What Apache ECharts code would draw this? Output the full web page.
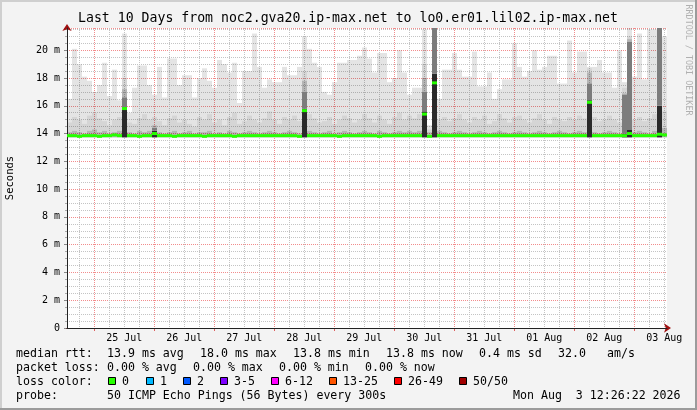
<!DOCTYPE html>
<html>
<head>
<meta charset="utf-8">
<script src="https://cdn.jsdelivr.net/npm/echarts@6/dist/echarts.min.js"></script>
<style>
html,body{margin:0;padding:0;background:#f3f3f3;}
#chart{width:697px;height:410px;}
</style>
</head>
<body>
<div id="chart"></div>
<script>
// ---------------- texts ----------------
const chartTitle = 'Last 10 Days from noc2.gva20.ip-max.net to lo0.er01.lil02.ip-max.net';
const yAxisTitle = 'Seconds';
const sideNote = 'RRDTOOL / TOBI OETIKER';

// ---------------- time axis (hours since 24 Jul 00:00) ----------------
const timeStartHour = 13.1;
const timeEndHour = 253.1;
const dayLabels = ['25 Jul','26 Jul','27 Jul','28 Jul','29 Jul','30 Jul','31 Jul','01 Aug','02 Aug','03 Aug'];
const dayLabelHours = [36,60,84,108,132,156,180,204,228,252];
const midnightHours = [24,48,72,96,120,144,168,192,216,240];
const sixHourHours = [18,30,36,42,54,60,66,78,84,90,102,108,114,126,132,138,150,156,162,174,180,186,198,204,210,222,228,234,246,252];

// ---------------- y axis ticks (ms) ----------------
const yMin = 0, yMax = 21.6, yStep = 2;

// ---------------- smoke data: one column per 2 hours (ms) ----------------
const smokeMin = [
13.72,13.72,13.72,13.72,13.72,13.72,13.72,13.72,13.72,13.72,
13.72,13.72,13.72,13.72,13.72,13.72,13.72,13.72,13.72,13.72,
13.72,13.72,13.72,13.72,13.72,13.72,13.72,13.72,13.72,13.72,
13.72,13.72,13.72,13.72,13.72,13.72,13.72,13.72,13.72,13.72,
13.72,13.72,13.72,13.72,13.72,13.72,13.72,13.72,13.72,13.72,
13.72,13.72,13.72,13.72,13.72,13.72,13.72,13.72,13.72,13.72,
13.72,13.72,13.72,13.72,13.72,13.72,13.72,13.72,13.72,13.72,
13.72,13.72,13.72,13.72,13.72,13.72,13.72,13.72,13.72,13.72,
13.72,13.72,13.72,13.72,13.72,13.72,13.72,13.72,13.72,13.72,
13.72,13.72,13.72,13.72,13.72,13.72,13.72,13.72,13.72,13.72,
13.72,13.72,13.72,13.72,13.72,13.72,13.72,13.72,13.72,13.72,
13.72,13.72,13.72,13.72,13.72,13.72,13.72,13.72,13.72,13.72];

const smokeDarkTop = [
14.1,14.2,14.1,14.0,14.2,14.3,14.1,14.2,14.0,14.1,
14.2,17.2,14.1,14.0,14.2,14.1,14.2,14.6,14.1,14.0,
14.1,14.2,14.0,14.1,14.2,14.0,14.1,14.1,14.2,14.0,
14.1,14.0,14.2,14.1,14.0,14.1,14.2,14.1,14.0,14.1,
14.2,14.1,14.0,14.1,14.2,14.1,14.0,17.8,14.2,14.1,
14.0,14.1,14.2,14.0,14.1,14.2,14.1,14.0,14.1,14.2,
14.1,14.0,14.2,14.1,14.0,14.1,14.2,14.1,14.2,14.1,
14.2,18.0,14.1,21.6,14.2,14.1,14.0,14.1,14.2,14.1,
14.0,14.1,14.2,14.1,14.0,14.1,14.2,14.1,14.0,14.1,
14.2,14.1,14.0,14.1,14.2,14.1,14.0,14.1,14.2,14.1,
14.0,14.1,14.2,14.1,18.4,14.1,14.0,14.1,14.2,14.1,
14.0,16.9,20.8,14.1,14.2,14.1,14.0,14.2,21.6,14.4];

const smokeMidTop = [
14.8,15.2,15.0,14.7,15.3,15.5,15.1,14.9,14.6,15.0,
15.2,18.0,14.8,14.7,15.1,15.4,15.0,15.2,14.9,14.6,
15.1,15.3,14.8,15.0,14.7,14.5,15.2,15.0,15.4,14.8,
15.0,14.6,15.2,15.5,14.7,14.9,15.3,15.0,14.8,15.1,
15.6,15.0,14.7,15.2,15.0,15.3,14.9,18.5,15.4,15.1,
14.8,14.9,15.2,14.7,15.0,15.3,15.1,14.8,15.0,15.4,
15.1,14.8,15.3,15.0,14.7,15.2,15.5,15.0,15.3,15.1,
15.4,19.0,14.3,21.6,15.0,15.2,14.9,15.1,15.4,15.0,
14.8,15.2,15.0,15.3,14.7,14.9,15.4,15.1,14.8,15.2,
15.3,15.0,14.8,15.1,15.4,15.0,14.7,15.2,15.0,14.9,
15.2,15.0,15.3,15.1,18.7,15.2,14.9,15.0,15.3,15.0,
14.8,17.3,21.0,15.0,15.2,14.9,15.1,15.4,21.6,15.6];

const smokeMax = [
16.5,20.1,19.0,18.1,17.8,17.0,17.5,19.1,16.7,18.6,
16.4,21.2,15.5,17.3,18.9,18.9,17.5,16.8,18.8,16.6,
19.4,19.4,17.5,18.2,18.2,16.6,18.0,18.7,17.8,17.3,
19.3,19.0,18.4,19.1,16.2,18.5,18.5,21.2,18.8,17.3,
17.9,17.7,17.7,18.8,18.2,18.2,18.8,21.0,20.1,19.1,
18.8,17.0,16.8,17.7,19.1,19.1,19.3,19.3,19.6,20.2,
19.4,18.4,19.8,19.8,17.7,18.0,20.0,18.4,16.8,17.3,
17.3,21.5,14.6,21.6,16.5,18.6,18.6,19.8,18.6,18.1,
18.1,19.9,17.4,17.4,18.4,16.5,17.2,17.9,17.9,20.5,
18.8,18.1,18.5,20.0,18.6,18.8,19.6,19.6,17.6,17.6,
20.7,18.4,19.9,19.9,18.8,18.8,19.3,18.4,18.4,17.3,
20.0,17.7,21.6,18.1,21.2,17.9,21.5,21.5,21.6,21.0];

// columns where the smoke has a dark core (high jitter bursts)
const burstColumns = [11, 17, 47, 71, 73, 104, 111, 112, 118];
const burstCoreTop = [15.9, 14.2, 15.8, 15.6, 18.3, 16.4, 14.0, 14.3, 16.0];
const burstShadeTop = [16.6, 14.4, 17.0, 17.0, 21.6, 17.6, 16.8, 20.6, 21.6];

const medianRtt = [
13.85,13.85,13.8,13.85,13.85,13.85,13.8,13.85,13.85,13.9,
13.85,15.8,13.85,13.85,13.8,13.85,13.85,14.0,13.85,13.85,
13.85,13.8,13.85,13.85,13.85,13.85,13.85,13.8,13.85,13.85,
13.85,13.85,13.85,13.8,13.85,13.85,13.85,13.85,13.85,13.85,
13.85,13.85,13.85,13.85,13.85,13.85,13.8,15.65,13.85,13.85,
13.85,13.85,13.85,13.85,13.8,13.85,13.85,13.85,13.85,13.85,
13.85,13.85,13.8,13.85,13.85,13.85,13.85,13.85,13.85,13.85,
13.85,15.4,13.8,17.65,13.85,13.85,13.85,13.85,13.85,13.85,
13.85,13.85,13.85,13.85,13.85,13.85,13.85,13.85,13.85,13.85,
13.85,13.85,13.85,13.85,13.85,13.85,13.85,13.85,13.85,13.85,
13.85,13.85,13.85,13.85,16.25,13.85,13.85,13.85,13.85,13.85,
13.85,13.85,14.0,13.85,13.85,13.85,13.85,13.85,13.95,13.9];

// ---------------- legend texts ----------------
const medianRttLabel = 'median rtt:';
const medianRttStats = ['13.9 ms avg','18.0 ms max','13.8 ms min','13.8 ms now','0.4 ms sd','32.0','am/s'];
const packetLossLabel = 'packet loss:';
const packetLossStats = ['0.00 % avg','0.00 % max','0.00 % min','0.00 % now'];
const lossColorLabel = 'loss color:';
const lossLabels = ['0','1','2','3-5','6-12','13-25','26-49','50/50'];
const lossColors = ['#26ff00','#00b8ff','#0059ff','#7e00ff','#ff00ff','#ff5500','#ff0000','#a10000'];
const probeLabel = 'probe:';
const probeText = '50 ICMP Echo Pings (56 Bytes) every 300s';
const stampText = 'Mon Aug  3 12:26:22 2026';

// ---------------- build ----------------
const MONO = '"DejaVu Sans Mono", monospace';
const cats = smokeMax.map((_, i) => i);
const coreTop = smokeMin.slice();
const shadeTop = smokeMin.slice();
burstColumns.forEach((c, k) => { coreTop[c] = burstCoreTop[k]; shadeTop[c] = burstShadeTop[k]; });
const r = v => Math.round(v * 1000) / 1000;
const layers = [
  { name: 'base',  vals: smokeMin.map(v => v), color: 'rgba(0,0,0,0)' },
  { name: 'core',  vals: coreTop.map((v, i) => r(v - smokeMin[i])), color: '#2a2a2a' },
  { name: 'shade', vals: shadeTop.map((v, i) => r(v - coreTop[i])), color: '#7c7c7c' },
  { name: 'dark',  vals: smokeDarkTop.map((v, i) => r(Math.max(0, v - shadeTop[i]))), color: 'rgba(0,0,0,0.29)' },
  { name: 'mid',   vals: smokeMidTop.map((v, i) => r(v - Math.max(smokeDarkTop[i], shadeTop[i]))), color: 'rgba(0,0,0,0.165)' },
  { name: 'light', vals: smokeMax.map((v, i) => r(v - smokeMidTop[i])), color: 'rgba(0,0,0,0.105)' }
];

const series = layers.map(l => ({
  type: 'bar', name: l.name, stack: 'smoke', xAxisIndex: 0, yAxisIndex: 0,
  data: l.vals, barCategoryGap: '0%', barGap: '0%', silent: true,
  itemStyle: { color: l.color }, animation: false, z: 3
}));

series.push({
  type: 'custom', name: 'median', xAxisIndex: 0, yAxisIndex: 0, z: 10, silent: true, animation: false,
  data: medianRtt.map((v, i) => [i, v]),
  renderItem: function (params, api) {
    const p = api.coord([api.value(0), api.value(1)]);
    const w = api.size([1, 0])[0];
    return { type: 'rect', shape: { x: p[0] - w / 2, y: p[1] - 1.5, width: w, height: 3 },
             style: { fill: lossColors[0] } };
  }
});

// legend/text graphics (layout positions here)
const txt = (x, y, t) => ({
  type: 'text', x: x, y: y, silent: true,
  style: { text: t, font: '11.6px ' + MONO, fill: '#000', textVerticalAlign: 'middle' }
});
const graphics = [];
graphics.push({ type: 'rect', shape: { x: 0, y: 0, width: 697, height: 2 }, style: { fill: '#cfcfcf' }, silent: true });
graphics.push({ type: 'rect', shape: { x: 0, y: 0, width: 2, height: 410 }, style: { fill: '#cfcfcf' }, silent: true });
graphics.push({ type: 'rect', shape: { x: 0, y: 408, width: 697, height: 2 }, style: { fill: '#9b9b9b' }, silent: true });
graphics.push({ type: 'rect', shape: { x: 695, y: 0, width: 2, height: 410 }, style: { fill: '#9b9b9b' }, silent: true });
graphics.push({ type: 'text', x: 348, y: 19, silent: true,
  style: { text: chartTitle, font: '13.2px ' + MONO, fill: '#000', textAlign: 'center', textVerticalAlign: 'middle' } });
graphics.push({ type: 'text', x: 688, y: 60, rotation: -Math.PI / 2, silent: true,
  style: { text: sideNote, font: '8.4px ' + MONO, fill: '#b0b0b0', textAlign: 'center', textVerticalAlign: 'middle' } });
graphics.push({ type: 'text', x: 10, y: 178, rotation: Math.PI / 2, silent: true,
  style: { text: yAxisTitle, font: '10.5px ' + MONO, fill: '#000', textAlign: 'center', textVerticalAlign: 'middle' } });
const row1X = [107, 200, 293, 386, 479, 558, 607];
graphics.push(txt(16, 354, medianRttLabel));
medianRttStats.forEach((s, i) => graphics.push(txt(row1X[i], 354, s)));
const row2X = [107, 193, 279, 365];
graphics.push(txt(16, 368, packetLossLabel));
packetLossStats.forEach((s, i) => graphics.push(txt(row2X[i], 368, s)));
const boxX = [108, 146, 183, 220, 271, 329, 394, 459];
graphics.push(txt(16, 382, lossColorLabel));
lossLabels.forEach((s, i) => {
  graphics.push({ type: 'rect', silent: true, shape: { x: boxX[i] + 0.5, y: 377.5, width: 7, height: 7 },
    style: { fill: lossColors[i], stroke: '#000', lineWidth: 1 } });
  graphics.push(txt(boxX[i] + 14, 382, s));
});
graphics.push(txt(16, 396, probeLabel));
graphics.push(txt(107, 396, probeText));
graphics.push(txt(513, 396, stampText));

const gridRed = { color: '#f28c8c', type: [1, 1], width: 1 };
const gridGray = { color: '#c4c4c4', type: [1, 1], width: 1 };
const hidden = { axisLine: { show: false }, axisTick: { show: false }, axisLabel: { show: false }, splitLine: { show: false } };

const option = {
  backgroundColor: '#f3f3f3',
  animation: false,
  textStyle: { fontFamily: MONO },
  grid: { left: 67, right: 30, top: 28, bottom: 82, show: true, backgroundColor: '#ffffff', borderWidth: 0, z: 0 },
  xAxis: [
    Object.assign({ type: 'category', data: cats, boundaryGap: true, z: 8 }, hidden,
      { axisLine: { show: true, lineStyle: { color: '#222', width: 1 } } }),
    { type: 'value', min: timeStartHour, max: timeEndHour, position: 'bottom', z: 1,
      axisLine: { show: false },
      axisTick: { show: true, customValues: midnightHours, length: 3, lineStyle: { color: '#e06060' } },
      axisLabel: { show: true, customValues: dayLabelHours, margin: 5, fontSize: 10, color: '#000',
                   fontFamily: MONO, formatter: v => dayLabels[dayLabelHours.indexOf(Math.round(v))] || '' },
      splitLine: { show: true, lineStyle: gridRed } },
    { type: 'value', min: timeStartHour, max: timeEndHour, position: 'bottom', z: 1,
      axisLine: { show: false },
      axisTick: { show: false, customValues: sixHourHours }, axisLabel: { show: false },
      splitLine: { show: true, lineStyle: gridGray } },
    Object.assign({ type: 'value', min: timeStartHour, max: timeEndHour, position: 'bottom', z: 7 }, hidden,
      { axisLine: { show: true, symbol: ['none', 'arrow'], symbolSize: [7, 7], symbolOffset: [0, 4],
                    lineStyle: { color: '#a01010' } } })
  ],
  yAxis: [
    { type: 'value', min: yMin, max: yMax, interval: yStep, position: 'left', z: 1,
      axisLine: { show: false },
      axisTick: { show: true, length: 3, lineStyle: { color: '#888' } },
      minorTick: { show: true, splitNumber: 4, length: 2, lineStyle: { color: '#aaa' } },
      axisLabel: { fontSize: 10, color: '#000', fontFamily: MONO, margin: 7, showMaxLabel: false,
                   formatter: v => v === 0 ? '0' : (v + ' m') },
      splitLine: { show: true, lineStyle: gridRed },
      minorSplitLine: { show: true, lineStyle: gridGray } },
    Object.assign({ type: 'value', min: yMin, max: yMax, position: 'left', z: 8 }, hidden,
      { axisLine: { show: true, lineStyle: { color: '#222' } } }),
    Object.assign({ type: 'value', min: yMin, max: yMax, position: 'left', z: 7 }, hidden,
      { axisLine: { show: true, symbol: ['none', 'arrow'], symbolSize: [7, 7], symbolOffset: [0, 4],
                    lineStyle: { color: '#a01010' } } })
  ],
  series: series,
  graphic: graphics
};

const chart = echarts.init(document.getElementById('chart'), null, { renderer: 'canvas' });
chart.setOption(option);
</script>
</body>
</html>
